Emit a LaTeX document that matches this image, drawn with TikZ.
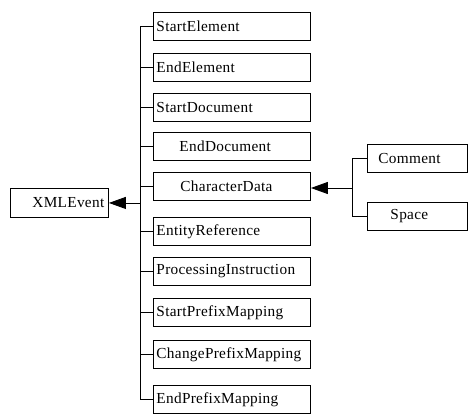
\documentclass[tikz,border=0pt]{standalone}
\usepackage{fontspec}
\setmainfont{Liberation Serif}[LetterSpace=2]
\usetikzlibrary{arrows.meta}
\begin{document}
\begin{tikzpicture}[x=1pt,y=-1pt,
  every node/.style={font=\fontsize{15.3}{17}\selectfont},
  cls/.style={draw, line width=0.9pt, anchor=north west, minimum height=28pt,
    text width=#1-6pt, inner xsep=3pt, inner ysep=0pt, align=left},
  cls/.default=157pt,
  conn/.style={line width=0.9pt},
  inh/.style={line width=0.9pt, -{Triangle[length=17pt,width=12pt]}}]
\useasboundingbox (0,0) rectangle (476,417);
% parent
\node[cls=98pt, minimum height=29pt] (xml) at (10,188) {\hspace*{19pt}XMLEvent};
% children
\node[cls] (se)  at (153,12)  {StartElement};
\node[cls] (ee)  at (153,53)  {EndElement};
\node[cls] (sd)  at (153,93)  {StartDocument};
\node[cls] (ed)  at (153,132) {\hspace*{23pt}EndDocument};
\node[cls] (cd)  at (153,172) {\hspace*{24pt}CharacterData};
\node[cls] (er)  at (153,217) {EntityReference};
\node[cls] (pi)  at (153,257) {ProcessingInstruction};
\node[cls] (spm) at (153,298) {StartPrefixMapping};
\node[cls] (cpm) at (153,340) {ChangePrefixMapping};
\node[cls] (epm) at (153,385) {EndPrefixMapping};
% grandchildren
\node[cls=100pt] (cm) at (367,144) {\hspace*{8pt}Comment};
\node[cls=100pt] (sp) at (367,202) {\hspace*{20pt}Space};
% bus 1
\coordinate (bx) at (140,0);
\draw[conn] (se.west -| bx) -- (epm.west -| bx);
\foreach \n in {se,ee,sd,ed,cd,er,pi,spm,cpm,epm}
  \draw[conn] (\n.west -| bx) -- (\n.west);
\draw[inh] (xml.east -| bx) -- (xml.east);
% bus 2
\coordinate (bx2) at (352,0);
\draw[conn] (cm.west -| bx2) -- (sp.west -| bx2);
\draw[conn] (cm.west -| bx2) -- (cm.west);
\draw[conn] (sp.west -| bx2) -- (sp.west);
\coordinate (cdj) at (352,188);
\draw[inh] (cdj) -- (cdj -| cd.east);
\end{tikzpicture}
\end{document}
